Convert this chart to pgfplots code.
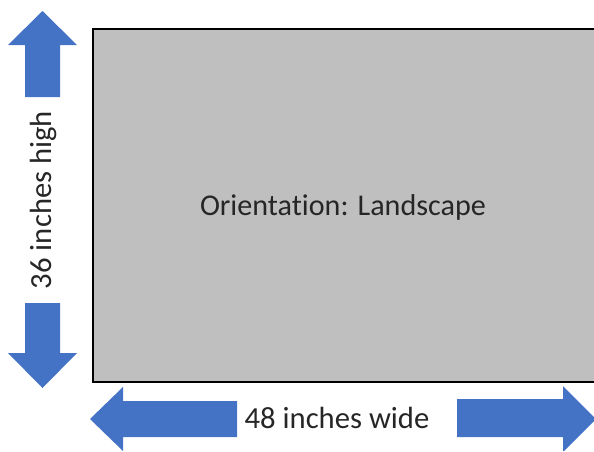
\documentclass[border=0pt]{standalone}
\usepackage{fontspec}
\setmainfont{Carlito}[Ligatures={NoCommon,NoContextual,NoRequired}]
\usepackage{pgfplots}
\pgfplotsset{compat=1.18}
\definecolor{arrowblue}{HTML}{4472C4}
\definecolor{boxgray}{HTML}{BFBFBF}
\begin{document}
\begin{tikzpicture}
\begin{axis}[
  scale only axis, width=445.5pt, height=338.25pt,
  xmin=0, xmax=594, ymin=0, ymax=451, y dir=reverse,
  hide axis, clip=true]
% keep the whole frame in the picture
\draw[draw=none] (rel axis cs:0,0) rectangle (rel axis cs:1,1);
% sheet
\addplot[fill=boxgray, draw=none] coordinates {
  (93,29) (594,29) (594,382) (93,382)} --cycle;
\addplot[draw=black, line width=1pt] coordinates {
  (594,29) (93,29) (93,382) (594,382)};
% up arrow
\addplot[fill=arrowblue, draw=none] coordinates {
  (42.5,11) (77,45) (60,45) (60,97) (25,97) (25,45) (8,45)} --cycle;
% down arrow
\addplot[fill=arrowblue, draw=none] coordinates {
  (25,303) (60,303) (60,353) (77,353) (42.5,388) (8,353) (25,353)} --cycle;
% left arrow
\addplot[fill=arrowblue, draw=none] coordinates {
  (90,419) (123,387) (123,401) (237,401) (237,437) (123,437) (123,451)} --cycle;
% right arrow (cut by the border)
\addplot[fill=arrowblue, draw=none] coordinates {
  (457,399) (563,399) (563,386) (594,417) (594,421) (564,451) (563,451) (563,437) (457,437)} --cycle;
\node[font=\fontsize{22.6}{26}\selectfont, text=black!85] at (axis cs:343,207) {Orientat\kern0pt ion: Landscape};
\node[font=\fontsize{23}{26}\selectfont, text=black!85] at (axis cs:337,418) {48 inches wide};
\node[font=\fontsize{23}{26}\selectfont, text=black!85, rotate=90] at (axis cs:43,200) {36 inches high};
\end{axis}
\end{tikzpicture}
\end{document}
